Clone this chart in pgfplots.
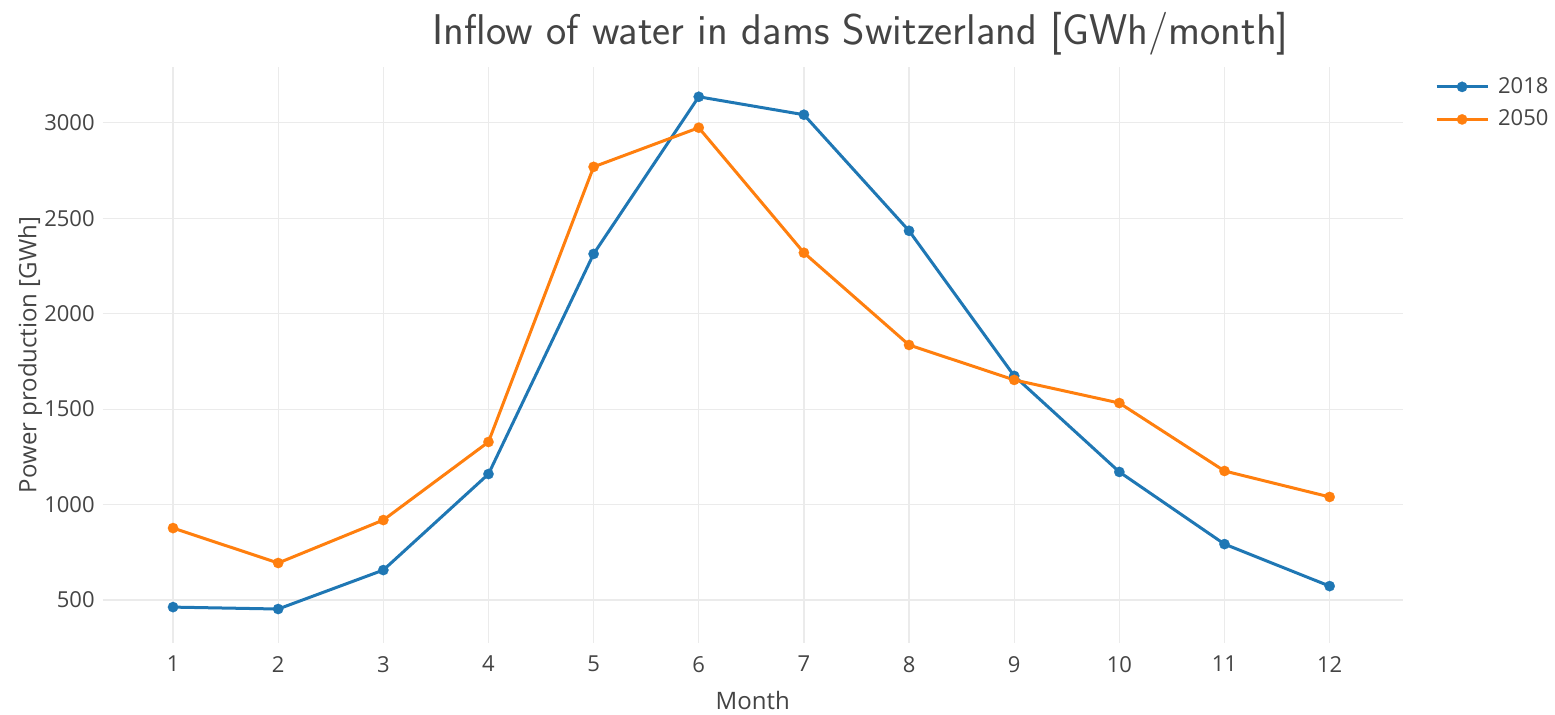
\documentclass[border=0pt]{standalone}
\usepackage{fontspec}
\setmainfont{Open Sans}
\usepackage{pgfplots}
\pgfplotsset{compat=1.18}
\definecolor{cA}{HTML}{1F77B4}
\definecolor{cB}{HTML}{FF7F0E}
\definecolor{txt}{HTML}{444444}
\definecolor{grd}{HTML}{EBEBEB}
\begin{document}
\begin{tikzpicture}
\path[use as bounding box] (-51.35pt,-35.5pt) rectangle (726.15pt,321.5pt);
\begin{axis}[
  at={(0pt,0pt)}, anchor=south west,
  scale only axis, width=650pt, height=288pt,
  xmin=0.331, xmax=12.695, ymin=275, ymax=3292,
  xtick={1,...,12}, ytick={500,1000,...,3000},
  grid=major, major grid style={grd, line width=0.6pt},
  axis line style={draw=none}, tick style={draw=none},
  /pgf/number format/assume math mode=true,
  /pgf/number format/1000 sep={},
  tick label style={font=\fontsize{11}{13}\selectfont, text=txt},
  xticklabel style={yshift=-3pt},
  yticklabel style={xshift=-0.5pt},
  xlabel={Month},
  label style={font=\fontsize{12}{14}\selectfont, text=txt},
  xlabel style={at={(axis description cs:0.5,0)}, anchor=center, yshift=-28.5pt},
  legend style={draw=none, fill=none, at={(1,1)}, anchor=north west, xshift=13pt, yshift=-2pt,
     font=\fontsize{11}{13}\selectfont, text=txt, row sep=4.8pt,
     nodes={inner xsep=2pt, inner ysep=1pt}},
  legend cell align=left,
  legend image code/.code={\draw[mark repeat=2,mark phase=2,#1] plot coordinates {(0pt,0pt)(12.75pt,0pt)(25.5pt,0pt)};},
  clip=false,
]
\addplot[cA, line width=1.5pt, mark=*, mark size=2.6pt, mark options={fill=cA, draw=cA, line width=0.1pt}]
 coordinates {(1,463)(2,453)(3,657)(4,1160)(5,2313)(6,3136)(7,3042)(8,2434)(9,1674)(10,1171)(11,793)(12,573)};
\addlegendentry{\hspace{2.5pt}2018}
\addplot[cB, line width=1.5pt, mark=*, mark size=2.6pt, mark options={fill=cB, draw=cB, line width=0.1pt}]
 coordinates {(1,877)(2,694)(3,919)(4,1328)(5,2769)(6,2974)(7,2319)(8,1836)(9,1653)(10,1532)(11,1176)(12,1040)};
\addlegendentry{\hspace{2.5pt}2050}
\node[font=\sffamily\fontsize{21.5}{26}\selectfont, text=txt, anchor=center] at (rel axis cs:0.583,1.058) {Inflow of water in dams Switzerland [GWh/month]};
\node[font=\fontsize{12}{14}\selectfont, text=txt, anchor=center, rotate=90] at (rel axis cs:-0.0559,0.5) {Power production [GWh]};
\end{axis}
\end{tikzpicture}
\end{document}
